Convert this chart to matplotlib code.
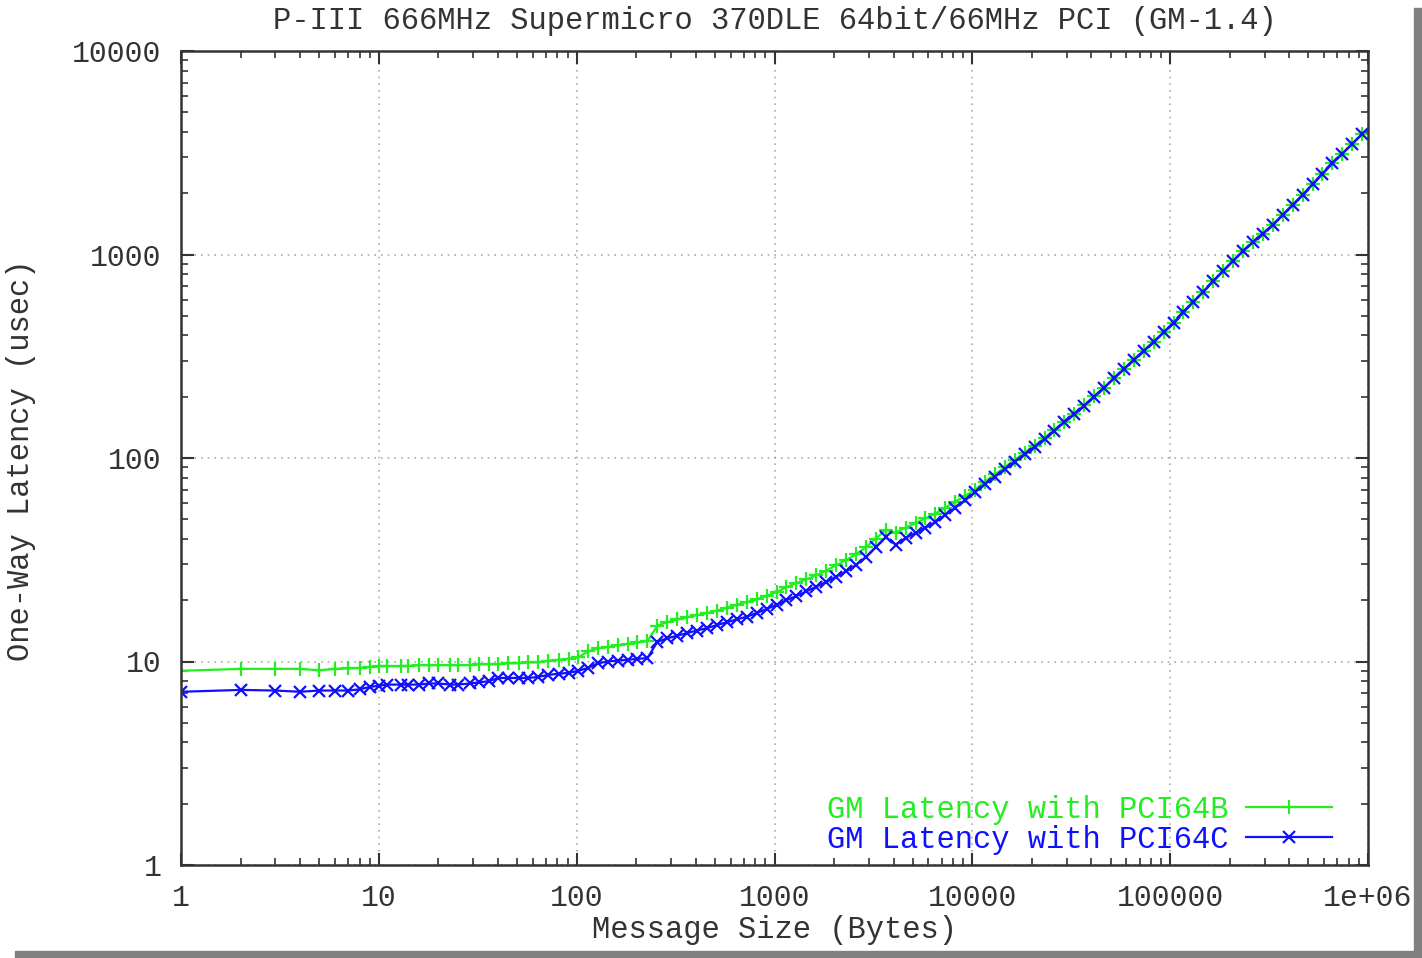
import matplotlib
matplotlib.use("Agg")
import matplotlib.pyplot as plt
from matplotlib.patches import Rectangle
from matplotlib.ticker import LogLocator, FixedLocator, FixedFormatter, NullFormatter

# message sizes (bytes)
sizes = [1, 2, 3, 4, 5, 6, 7, 8, 9,
         10, 11, 13, 14, 16, 18, 20, 23, 25, 29, 32, 36, 40, 45, 51, 57, 64, 72, 81, 91,
         102, 114, 128, 144, 161, 181, 203, 228, 256, 287, 323, 362, 406, 456, 512, 575, 645, 724, 813, 912,
         1024, 1149, 1290, 1448, 1625, 1825, 2048, 2299, 2580, 2896, 3251, 3649, 4096, 4598, 5161, 5793,
         6502, 7298, 8192, 9195,
         10321, 11585, 13004, 14596, 16384, 18390, 20643, 23170, 26008, 29193, 32768, 36781, 41285, 46341,
         52016, 58386, 65536, 73562, 82570, 92682,
         104032, 116772, 131072, 147123, 165140, 185364, 208064, 233543, 262144, 294246, 330281, 370728,
         416128, 467088, 524288, 588493, 660561, 741455, 832255, 934177]

# one-way latency (usec), PCI64B
lat_pci64b = [9.0, 9.2, 9.2, 9.2, 9.05, 9.2, 9.25, 9.3, 9.4,
              9.5, 9.5, 9.5, 9.5, 9.6, 9.6, 9.6, 9.6, 9.6, 9.6, 9.7, 9.7, 9.7, 9.8, 9.8, 9.9, 9.9, 10.1, 10.2, 10.3,
              10.5, 11.2, 11.6, 11.8, 12.0, 12.2, 12.4, 12.6, 15.0, 15.6, 16.1, 16.5, 16.9, 17.3, 17.8, 18.4,
              19.0, 19.6, 20.2, 21.0,
              21.9, 23.2, 24.3, 25.3, 26.5, 28.0, 29.7, 31.5, 33.6, 36.4, 40.2, 44.3, 43.0, 45.5, 47.8, 50.5,
              53.3, 57.0, 61.0, 65.0,
              70, 76.5, 83, 90, 98, 106, 115, 125.5, 138, 151, 165, 182, 201, 222, 246, 273.5, 304, 336.5, 373, 414,
              463, 520, 585, 657, 738, 830, 932, 1040, 1149, 1268, 1400, 1568, 1755, 1964, 2213, 2491, 2805,
              3131, 3495, 3905]

# one-way latency (usec), PCI64C
lat_pci64c = [7.1, 7.25, 7.2, 7.1, 7.2, 7.2, 7.2, 7.3, 7.5,
              7.6, 7.7, 7.7, 7.7, 7.7, 7.8, 7.8, 7.7, 7.7, 7.8, 7.9, 8.0, 8.3, 8.3, 8.3, 8.3, 8.4, 8.6, 8.7, 8.8,
              9.0, 9.3, 9.8, 10.0, 10.1, 10.2, 10.3, 10.4, 12.5, 13.0, 13.4, 13.8, 14.2, 14.6, 15.1, 15.6,
              16.1, 16.6, 17.3, 18.1,
              19.0, 20.0, 21.0, 22.1, 23.3, 24.6, 26.1, 27.7, 29.8, 32.6, 36.4, 40.8, 37.5, 40.5, 42.8, 45.5,
              48.3, 52.5, 57.0, 62.0,
              68, 74.5, 81, 88, 96, 104.5, 113.5, 124, 136.5, 150, 164, 181, 200.5, 222, 246, 273.5, 304, 336.5, 373, 414,
              463, 520, 585, 657, 738, 830, 932, 1040, 1149, 1268, 1400, 1568, 1755, 1964, 2213, 2491, 2805,
              3131, 3495, 3905]

x_ticks = [1, 10, 100, 1000, 10000, 100000, 1000000]
x_tick_labels = ["1", "10", "100", "1000", "10000", "100000", "1e+06"]
y_ticks = [1, 10, 100, 1000, 10000]
y_tick_labels = ["1", "10", "100", "1000", "10000"]

plt.rcParams['font.family'] = ['Liberation Mono', 'DejaVu Sans Mono']
text_color = '#333333'
fs = 22

fig = plt.figure(figsize=(14.22, 9.58), dpi=100)
ax = fig.add_axes([181 / 1422, 1 - 865 / 958, (1368 - 181) / 1422, (865 - 51) / 958])

ax.plot(sizes, lat_pci64b, color='#22ee22', lw=1.6, marker='+', ms=10, mew=1.6,
        label='GM Latency with PCI64B')
ax.plot(sizes, lat_pci64c, color='#1010ff', lw=1.6, marker='x', ms=8, mew=1.6,
        label='GM Latency with PCI64C')

ax.set_xscale('log')
ax.set_yscale('log')
ax.set_xlim(1, 1e6)
ax.set_ylim(1, 1e4)

ax.xaxis.set_major_locator(FixedLocator(x_ticks))
ax.xaxis.set_major_formatter(FixedFormatter(x_tick_labels))
ax.yaxis.set_major_locator(FixedLocator(y_ticks))
ax.yaxis.set_major_formatter(FixedFormatter(y_tick_labels))
ax.xaxis.set_minor_locator(LogLocator(base=10, subs=range(2, 10), numticks=20))
ax.yaxis.set_minor_locator(LogLocator(base=10, subs=range(2, 10), numticks=20))
ax.xaxis.set_minor_formatter(NullFormatter())
ax.yaxis.set_minor_formatter(NullFormatter())

ax.tick_params(which='both', direction='in', top=True, right=True, colors='#333333',
               labelcolor=text_color, labelsize=fs - 0.5)
ax.tick_params(which='major', length=9, width=1.5, pad=14)
ax.tick_params(which='minor', length=5, width=1.2)

ax.grid(True, which='major', linestyle=(0, (1, 3)), color='#aaaaaa', lw=1.2)

for sp in ax.spines.values():
    sp.set_color('#333333')
    sp.set_linewidth(1.8)

ax.set_title('P-III 666MHz Supermicro 370DLE 64bit/66MHz PCI (GM-1.4)', fontsize=fs,
             color=text_color, pad=16)
ax.set_xlabel('Message Size (Bytes)', fontsize=fs, color=text_color)
ax.set_ylabel('One-Way Latency (usec)', fontsize=fs, color=text_color)
ax.xaxis.set_label_coords(0.5, -0.062)
ax.yaxis.set_label_coords(-0.122, 0.4975)

leg = ax.legend(loc='lower right', bbox_to_anchor=(0.9697, 0.0123), frameon=False,
                markerfirst=False, labelcolor='linecolor', fontsize=fs,
                handlelength=2.8, handletextpad=0.6, labelspacing=0.0,
                borderpad=0, borderaxespad=0)

# drop shadow of the original image frame
fig.patches.append(Rectangle((1414 / 1422, 0), 8 / 1422, 1 - 8 / 958, transform=fig.transFigure,
                             color='#808080', zorder=0))
fig.patches.append(Rectangle((15 / 1422, 0), 1 - 15 / 1422, 7 / 958, transform=fig.transFigure,
                             color='#808080', zorder=0))

fig.savefig('out.png', dpi=100)
